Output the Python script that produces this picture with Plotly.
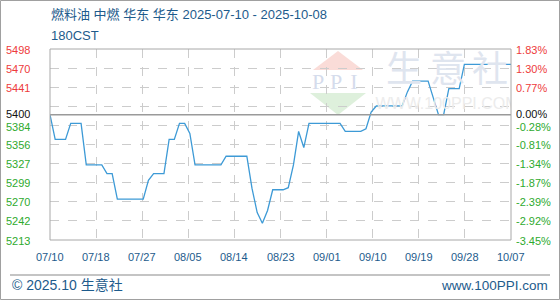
import pandas as pd
import plotly.graph_objects as go

# ---------------- data ----------------
start_date = "2025-07-10"
dates = [d.strftime("%Y-%m-%d") for d in pd.date_range(start_date, periods=90, freq="D")]
prices = [
    5400, 5363, 5363, 5363, 5387, 5387, 5387, 5325, 5325, 5325,
    5325, 5312, 5312, 5274, 5274, 5274, 5274, 5274, 5274, 5302,
    5312, 5312, 5312, 5363, 5363, 5387, 5387, 5372, 5325, 5325,
    5325, 5325, 5325, 5325, 5338, 5338, 5338, 5338, 5338, 5290,
    5254, 5238, 5257, 5288, 5288, 5288, 5291, 5325, 5375, 5351,
    5387, 5387, 5387, 5387, 5387, 5387, 5387, 5375, 5375, 5375,
    5375, 5379, 5404, 5413, 5413, 5413, 5413, 5413, 5413, 5434,
    5450, 5450, 5450, 5450, 5425, 5400, 5400, 5439, 5439, 5439,
    5475, 5475, 5475, 5475, 5475, 5475, 5475, 5475, 5475, 5475,
]
base_price = 5400
x_tick_text = ["07/10", "07/18", "07/27", "08/05", "08/14", "08/23",
               "09/01", "09/10", "09/19", "09/28", "10/07"]
y_grid_vals = [5498, 5469.5, 5441, 5412.5, 5384, 5355.5, 5327, 5298.5, 5270, 5241.5, 5213]
y_label_vals = [5498, 5469.5, 5441, 5400, 5384, 5355.5, 5327, 5298.5, 5270, 5241.5, 5213]
y_left_text = ["5498", "5470", "5441", "5400", "5384", "5356", "5327", "5299", "5270", "5242", "5213"]
y_right_text = ["1.83%", "1.30%", "0.77%", "0.00%", "-0.28%", "-0.81%", "-1.34%",
                "-1.87%", "-2.39%", "-2.92%", "-3.45%"]
title_text = "燃料油 中燃 华东 华东 2025-07-10 - 2025-10-08"
subtitle_text = "180CST"
footer_left = "© 2025.10 生意社"
footer_right = "www.100PPI.com"

# ---------------- layout geometry ----------------
W, H = 560, 300
L, R, T, B = 50, 49, 49, 60
PW, PH = W - L - R, H - T - B

def px(xp):
    return (xp - L) / PW

def py(yp):
    return (H - B - yp) / PH

FONT = "Liberation Sans, Arial, Noto Sans CJK SC, sans-serif"
RED, GREEN, BLACK = "#ee3b3b", "#2eaa2e", "#111111"
BLUE_TXT = "#1d5b8c"
LINE_BLUE = "#3d9ad6"

start = pd.Timestamp(dates[0])
span_days = (pd.Timestamp(dates[-1]) - start).days
x_tick_vals = [(start + pd.Timedelta(days=span_days * k / 10)).strftime("%Y-%m-%d %H:%M:%S")
               for k in range(len(x_tick_text))]

fig = go.Figure()

# watermark (overlay axes in pixel units of plot area)
wm_chars = ["生", "意", "社"]
wm_x = [404, 448, 490]
fig.add_trace(go.Scatter(
    x=wm_x, y=[73, 73, 73], mode="text", text=wm_chars,
    textfont=dict(family="Noto Sans CJK SC", size=36, color="#dfe5ef"),
    xaxis="x2", yaxis="y2", hoverinfo="skip", showlegend=False))
fig.add_trace(go.Scatter(
    x=[447], y=[105], mode="text", text=["WWW.100PPI.COM"],
    textfont=dict(family="Liberation Sans", size=16, color="#ececec"),
    xaxis="x2", yaxis="y2", hoverinfo="skip", showlegend=False))
fig.add_trace(go.Scatter(
    x=[318, 336, 354], y=[83, 83, 83], mode="text", text=["P", "P", "I"],
    textfont=dict(family="Liberation Serif", size=22, color="#d5dcec"),
    xaxis="x2", yaxis="y2", hoverinfo="skip", showlegend=False))

# price line
fig.add_trace(go.Scatter(
    x=dates, y=prices, mode="lines",
    line=dict(color=LINE_BLUE, width=1.3),
    hoverinfo="skip", showlegend=False))

shapes = []
# logo triangles
shapes.append(dict(type="path", xref="x2", yref="y2", layer="below",
                   path="M 338 51 L 363 70 L 313 70 Z",
                   fillcolor="#fadcd8", line=dict(width=0)))
shapes.append(dict(type="path", xref="x2", yref="y2", layer="below",
                   path="M 310 93 L 366 93 L 338 115 Z",
                   fillcolor="#def0dc", line=dict(width=0)))
# base line at 5400
shapes.append(dict(type="line", xref="paper", yref="y", x0=0, x1=1,
                   y0=base_price, y1=base_price, line=dict(color="#9a9a9a", width=1.5)))
# plot frame
shapes.append(dict(type="rect", xref="paper", yref="paper", x0=0, x1=1, y0=0, y1=1,
                   line=dict(color="#a8a8a8", width=1)))
# footer line
shapes.append(dict(type="line", xref="paper", yref="paper",
                   x0=px(10), x1=px(550), y0=py(275), y1=py(275),
                   line=dict(color="#b0b0b0", width=1.5)))
# outer frame
shapes.append(dict(type="rect", xref="paper", yref="paper",
                   x0=px(0.5), x1=px(559.5), y0=py(299.5), y1=py(0.5),
                   line=dict(color="#a0a0a0", width=1)))

ann = []
ann.append(dict(text=title_text, xref="paper", yref="paper", x=px(49), y=py(15),
                xanchor="left", yanchor="middle", showarrow=False,
                font=dict(family=FONT, size=13, color=BLUE_TXT)))
ann.append(dict(text=subtitle_text, xref="paper", yref="paper", x=px(49), y=py(35),
                xanchor="left", yanchor="middle", showarrow=False,
                font=dict(family=FONT, size=13, color=BLUE_TXT)))
ann.append(dict(text=footer_left, xref="paper", yref="paper", x=px(10), y=py(285),
                xanchor="left", yanchor="middle", showarrow=False,
                font=dict(family=FONT, size=14, color=BLUE_TXT)))
ann.append(dict(text=footer_right, xref="paper", yref="paper", x=px(550), y=py(285),
                xanchor="right", yanchor="middle", showarrow=False,
                font=dict(family=FONT, size=13.5, color=BLUE_TXT)))

for v, lt, rt in zip(y_label_vals, y_left_text, y_right_text):
    c = BLACK if v == base_price else (RED if v > base_price else GREEN)
    shift = 1.5 if v == base_price else (-1 if v == 5384 else 0)
    ann.append(dict(text=lt, xref="paper", yref="y", x=px(4), y=v, yshift=shift,
                    xanchor="left", yanchor="middle", showarrow=False, height=11,
                    font=dict(family=FONT, size=11, color=c)))
    ann.append(dict(text=rt, xref="paper", yref="y", x=px(514), y=v, yshift=shift,
                    xanchor="left", yanchor="middle", showarrow=False, height=11,
                    font=dict(family=FONT, size=11, color=c)))

for xv, xt in zip(x_tick_vals, x_tick_text):
    ann.append(dict(text=xt, xref="x", yref="paper", x=xv, y=py(257),
                    xanchor="center", yanchor="middle", showarrow=False,
                    font=dict(family=FONT, size=11, color=BLUE_TXT)))

fig.update_layout(
    width=W, height=H,
    margin=dict(l=L, r=R, t=T, b=B, pad=0),
    paper_bgcolor="white", plot_bgcolor="white",
    showlegend=False,
    xaxis=dict(type="date", range=[x_tick_vals[0], x_tick_vals[-1]],
               tickmode="array", tickvals=x_tick_vals, showticklabels=False,
               showgrid=True, gridcolor="#cccccc", griddash="dash", gridwidth=1,
               zeroline=False, showline=False, ticks=""),
    yaxis=dict(range=[5213, 5498], tickmode="array", tickvals=y_grid_vals,
               showticklabels=False, showgrid=True, gridcolor="#cccccc",
               griddash="dash", gridwidth=1, zeroline=False, showline=False, ticks=""),
    xaxis2=dict(overlaying="x", range=[L, W - R], visible=False, fixedrange=True),
    yaxis2=dict(overlaying="y", range=[H - B, T], visible=False, fixedrange=True),
    shapes=shapes, annotations=ann,
)

fig.write_html("out.html")
